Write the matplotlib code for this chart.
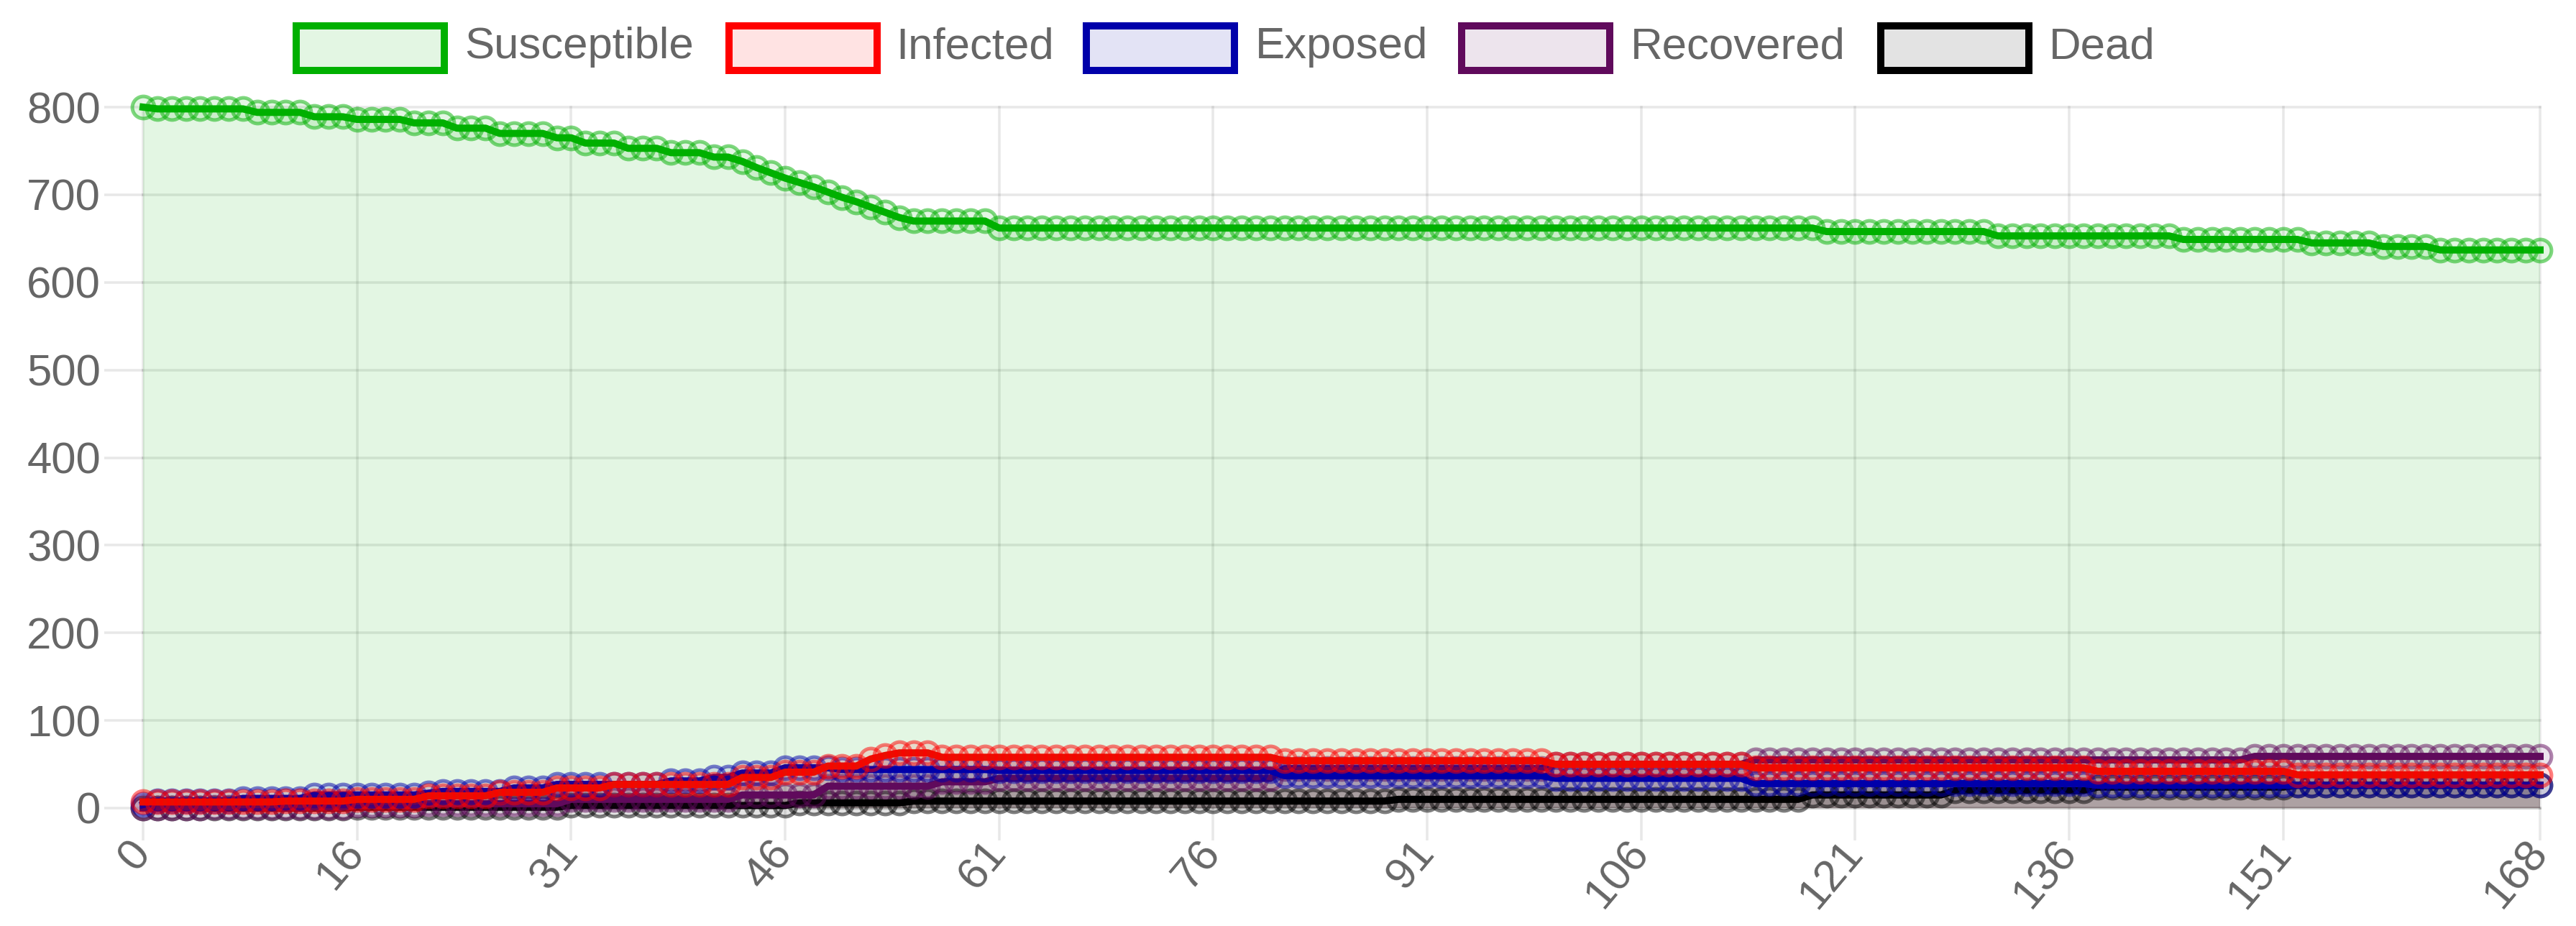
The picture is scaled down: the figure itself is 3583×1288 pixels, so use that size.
import matplotlib
matplotlib.use("Agg")
import matplotlib.pyplot as plt
from matplotlib.patches import Rectangle

# ---------------- data ----------------
series_names = ["Susceptible", "Infected", "Exposed", "Recovered", "Dead"]

susceptible = [
    800, 798, 798, 798, 798, 798, 798, 798, 794, 794,
    794, 794, 789, 789, 789, 786, 786, 786, 786, 782,
    782, 782, 776, 776, 776, 770, 770, 770, 770, 765,
    765, 759, 759, 759, 753, 753, 753, 748, 748, 748,
    743, 743, 738, 731, 725, 719, 714, 709, 703, 697,
    692, 686, 680, 674, 670, 670, 670, 670, 670, 670,
    662, 662, 662, 662, 662, 662, 662, 662, 662, 662,
    662, 662, 662, 662, 662, 662, 662, 662, 662, 662,
    662, 662, 662, 662, 662, 662, 662, 662, 662, 662,
    662, 662, 662, 662, 662, 662, 662, 662, 662, 662,
    662, 662, 662, 662, 662, 662, 662, 662, 662, 662,
    662, 662, 662, 662, 662, 662, 662, 662, 658, 658,
    658, 658, 658, 658, 658, 658, 658, 658, 658, 658,
    653, 653, 653, 653, 653, 653, 653, 653, 653, 653,
    653, 653, 653, 649, 649, 649, 649, 649, 649, 649,
    649, 649, 645, 645, 645, 645, 645, 641, 641, 641,
    641, 637, 637, 637, 637, 637, 637, 637, 637,
]

infected = [
    7, 7, 7, 7, 7, 7, 7, 7, 7, 7,
    8, 8, 8, 8, 8, 10, 10, 10, 10, 10,
    14, 14, 14, 14, 14, 18, 18, 18, 18, 23,
    23, 23, 23, 27, 27, 27, 27, 27, 27, 27,
    27, 27, 35, 35, 35, 41, 41, 41, 48, 48,
    48, 56, 60, 63, 63, 63, 58, 58, 58, 58,
    58, 58, 58, 58, 58, 58, 58, 58, 58, 58,
    58, 58, 58, 58, 58, 58, 58, 58, 58, 58,
    54, 54, 54, 54, 54, 54, 54, 54, 54, 54,
    54, 54, 54, 54, 54, 54, 54, 54, 54, 50,
    50, 50, 50, 50, 50, 50, 50, 50, 50, 50,
    50, 50, 50, 46, 46, 46, 46, 46, 46, 46,
    46, 46, 46, 46, 46, 46, 46, 46, 46, 46,
    46, 46, 46, 46, 46, 46, 46, 42, 42, 42,
    42, 42, 42, 42, 42, 42, 42, 42, 42, 42,
    42, 38, 38, 38, 38, 38, 38, 38, 38, 38,
    38, 38, 38, 38, 38, 38, 38, 38, 38,
]

exposed = [
    4, 8, 8, 8, 8, 8, 8, 11, 11, 11,
    11, 11, 15, 15, 15, 15, 15, 15, 15, 15,
    17, 19, 19, 19, 19, 19, 23, 23, 23, 27,
    27, 27, 27, 27, 27, 27, 27, 31, 31, 31,
    35, 35, 40, 40, 40, 46, 46, 46, 46, 44,
    44, 44, 44, 44, 44, 44, 44, 44, 44, 44,
    43, 43, 43, 43, 43, 43, 43, 43, 43, 43,
    43, 43, 43, 43, 43, 43, 43, 43, 43, 43,
    37, 37, 37, 37, 37, 37, 37, 37, 37, 37,
    37, 37, 37, 37, 37, 37, 37, 37, 37, 34,
    34, 34, 34, 34, 34, 34, 34, 34, 34, 34,
    34, 34, 34, 28, 28, 28, 28, 28, 28, 28,
    28, 28, 28, 28, 28, 28, 28, 28, 28, 28,
    28, 28, 28, 28, 28, 28, 28, 26, 26, 26,
    26, 26, 26, 26, 26, 26, 26, 26, 26, 26,
    26, 26, 26, 26, 26, 26, 26, 26, 26, 26,
    26, 26, 26, 26, 26, 26, 26, 26, 26,
]

recovered = [
    0, 0, 0, 0, 0, 1, 1, 1, 1, 1,
    1, 1, 1, 1, 1, 3, 3, 3, 3, 3,
    5, 5, 5, 5, 5, 5, 5, 5, 5, 5,
    10, 10, 10, 10, 10, 10, 10, 10, 10, 10,
    10, 10, 15, 15, 15, 15, 15, 15, 25, 25,
    25, 25, 25, 25, 25, 25, 30, 30, 30, 30,
    34, 34, 34, 34, 34, 34, 34, 34, 34, 34,
    34, 34, 34, 34, 34, 34, 34, 34, 34, 34,
    45, 45, 45, 45, 45, 45, 45, 45, 45, 45,
    45, 45, 45, 45, 45, 45, 45, 45, 45, 50,
    50, 50, 50, 50, 50, 50, 50, 50, 50, 50,
    50, 50, 50, 55, 55, 55, 55, 55, 55, 55,
    55, 55, 55, 55, 55, 55, 55, 55, 55, 55,
    55, 55, 55, 55, 55, 55, 55, 55, 55, 55,
    55, 55, 55, 55, 55, 55, 55, 55, 59, 59,
    59, 59, 59, 59, 59, 59, 59, 59, 59, 59,
    59, 59, 59, 59, 59, 59, 59, 59, 59,
]

dead = [
    0, 0, 0, 0, 0, 0, 0, 0, 0, 0,
    0, 0, 0, 0, 0, 1, 1, 1, 1, 1,
    1, 1, 1, 1, 1, 1, 1, 1, 1, 1,
    3, 3, 3, 3, 3, 3, 3, 3, 3, 3,
    3, 3, 3, 3, 3, 3, 6, 6, 6, 6,
    6, 6, 6, 6, 8, 8, 8, 8, 8, 8,
    8, 8, 8, 8, 8, 8, 8, 8, 8, 8,
    8, 8, 8, 8, 8, 8, 8, 8, 8, 8,
    8, 8, 8, 8, 8, 8, 8, 8, 10, 10,
    10, 10, 10, 10, 10, 10, 10, 10, 10, 10,
    10, 10, 10, 10, 10, 10, 10, 10, 10, 10,
    10, 10, 10, 10, 10, 10, 10, 15, 15, 15,
    15, 15, 15, 15, 15, 15, 15, 20, 20, 20,
    20, 20, 20, 20, 20, 20, 20, 24, 24, 24,
    24, 24, 24, 24, 24, 24, 24, 24, 24, 24,
    24, 26, 26, 26, 26, 26, 26, 26, 26, 26,
    26, 26, 26, 26, 26, 26, 26, 26, 26,
]

# category positions of the visible (auto-skipped) x labels and their text
x_tick_positions = [0, 15, 30, 45, 60, 75, 90, 105, 120, 135, 150, 168]
x_tick_labels = ["0", "16", "31", "46", "61", "76", "91", "106", "121", "136", "151", "168"]
y_ticks = [0, 100, 200, 300, 400, 500, 600, 700, 800]

all_series = [susceptible, infected, exposed, recovered, dead]
for s in all_series:
    assert len(s) == 169, len(s)

# ---------------- style ----------------
line_colors = ["#00B000", "#E81000", "#0000AA", "#600A5C", "#000000"]
legend_edge = ["#00B000", "#FF0000", "#0000AA", "#600A5C", "#000000"]
base_rgb = [(0, 176, 0), (255, 0, 0), (0, 0, 170), (96, 10, 92), (0, 0, 0)]
FILL_A = 0.11
fill_colors = [(r / 255, g / 255, b / 255, FILL_A) for r, g, b in base_rgb]
edge_colors = [(r / 255, g / 255, b / 255, 0.5) for r, g, b in base_rgb]

W, H, DPI = 3583, 1288, 100
PT = 72.0 / DPI
FS = 44.5
TXT = "#666666"

plt.rcParams['font.family'] = ['Liberation Sans', 'DejaVu Sans']

fig = plt.figure(figsize=(W / DPI, H / DPI), dpi=DPI)
fig.patch.set_facecolor("white")

L, R, T, B = 199, 3533, 149, 1124
ax = fig.add_axes([L / W, 1 - B / H, (R - L) / W, (B - T) / H])
ax.set_facecolor("none")
ax.set_xlim(0, 168)
ax.set_ylim(0, 800)
for sp in ax.spines.values():
    sp.set_visible(False)

grid_c = (0, 0, 0, 0.09)
zero_c = (0, 0, 0, 0.22)
glw = 3.6 * PT
for yv in y_ticks:
    ax.axhline(yv, color=zero_c if yv == 0 else grid_c, lw=glw, zorder=0.5, clip_on=False)
for xv in x_tick_positions:
    ax.axvline(xv, color=grid_c, lw=glw, zorder=0.5, clip_on=False)

ax.set_yticks(y_ticks)
ax.set_yticklabels([str(v) for v in y_ticks])
ax.tick_params(axis='y', length=54 * PT, width=glw, color=grid_c, pad=5 * PT,
               labelsize=FS, labelcolor=TXT)
ax.yaxis.get_major_ticks()[0].tick1line.set_color(zero_c)

ax.set_xticks(x_tick_positions)
ax.set_xticklabels(x_tick_labels, rotation=50, ha='right', va='center',
                   rotation_mode='anchor')
ax.tick_params(axis='x', length=45 * PT, width=glw, color=grid_c, pad=8 * PT,
               labelsize=FS, labelcolor=TXT)

x = list(range(len(susceptible)))

# fills first (drawn from last dataset to first), then lines/points
for i in reversed(range(len(all_series))):
    ax.fill_between(x, 0, all_series[i], facecolor=fill_colors[i], lw=0, zorder=1)

for z, i in enumerate(reversed(range(len(all_series)))):
    ax.plot(x, all_series[i], color=line_colors[i], lw=10 * PT,
            marker='o', ms=30.8 * PT, mfc=fill_colors[i], mec=edge_colors[i],
            mew=5 * PT, zorder=2 + z, clip_on=False, solid_joinstyle='round')

# ---------------- legend (Chart.js style, top centre) ----------------
box_lefts = [412, 1014, 1511, 2033, 2616]
text_lefts = [646, 1246, 1746, 2268, 2850]
BOX_W, BOX_H, BOX_YC = 206, 62, 67
BASELINE = 81
for i, name in enumerate(series_names):
    rect = Rectangle((box_lefts[i] / W, 1 - (BOX_YC + BOX_H / 2) / H), BOX_W / W, BOX_H / H,
                     transform=fig.transFigure, facecolor=fill_colors[i],
                     edgecolor=legend_edge[i], linewidth=10 * PT)
    fig.add_artist(rect)
    fig.text(text_lefts[i] / W, 1 - BASELINE / H, name, ha='left', va='baseline',
             fontsize=FS, color=TXT)

fig.savefig("out.png", dpi=DPI, facecolor="white")
